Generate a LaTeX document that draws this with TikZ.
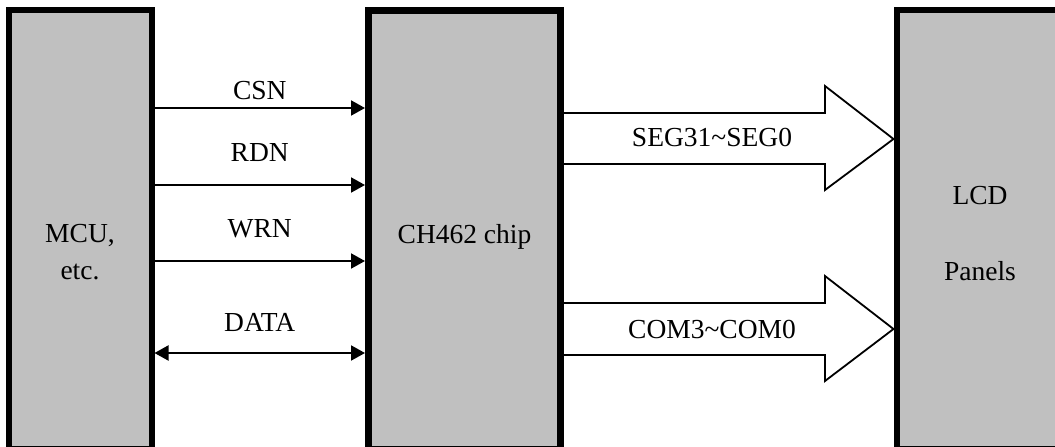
\documentclass[tikz,border=0pt]{standalone}
\usepackage{fontspec}
\setmainfont{Liberation Serif}
\usepackage{xcolor}
\usetikzlibrary{arrows.meta}
\definecolor{boxgray}{RGB}{192,192,192}

\begin{document}
\begin{tikzpicture}[x=1pt, y=-1pt,
  >={Triangle[length=14pt,width=15pt]},
  every node/.style={font=\fontsize{27.5}{33}\selectfont},
  block/.style={draw, line width=6pt, fill=boxgray, inner sep=0pt},
  sig/.style={line width=2pt},
  bus/.style={line width=1.8pt, fill=white},
  lbl/.style={anchor=base}]
  \useasboundingbox (0,0) rectangle (1055,447);
  % the three blocks
  \node[block, minimum width=143pt, minimum height=439pt] (mcu) at (80,229.5) {};
  \node[block, line width=7pt, minimum width=192pt, minimum height=439pt] (chip) at (464.5,229.5) {};
  \node[block, minimum width=167pt, minimum height=439pt] (lcd) at (980,229.5) {};
  \node[lbl] (mcutop) at (80,242) {MCU,};
  \node[lbl] (mcubot) at (80,279) {etc.};
  \node[lbl] (chiptxt) at (464.5,243) {CH462 chip};
  \node[lbl] (lcdtop) at (980,204) {LCD};
  \node[lbl] (lcdbot) at (980,280) {Panels};
  % control lines
  \draw[sig, ->] (mcu.east |- 0,108) -- node[lbl, yshift=9pt] (csn) {CSN} (chip.west |- 0,108);
  \draw[sig, ->] (mcu.east |- 0,185) -- node[lbl, yshift=24pt] (rdn) {RDN} (chip.west |- 0,185);
  \draw[sig, ->] (mcu.east |- 0,261) -- node[lbl, yshift=24pt] (wrn) {WRN} (chip.west |- 0,261);
  \draw[sig, <->] (mcu.east |- 0,353) -- node[lbl, yshift=22pt] (data) {DATA} (chip.west |- 0,353);
  % outputs to the panel
  \draw[bus] (chip.east |- 0,113) -- (825,113) -- (825,86) -- (lcd.west |- 0,139)
    -- (825,190) -- (825,164) -- (chip.east |- 0,164);
  \node[lbl] (seg) at (712,146) {SEG31\textasciitilde SEG0};
  \draw[bus] (chip.east |- 0,303) -- (825,303) -- (825,276) -- (lcd.west |- 0,329)
    -- (825,381) -- (825,355) -- (chip.east |- 0,355);
  \node[lbl] (com) at (712,338) {COM3\textasciitilde COM0};
\end{tikzpicture}
\end{document}
